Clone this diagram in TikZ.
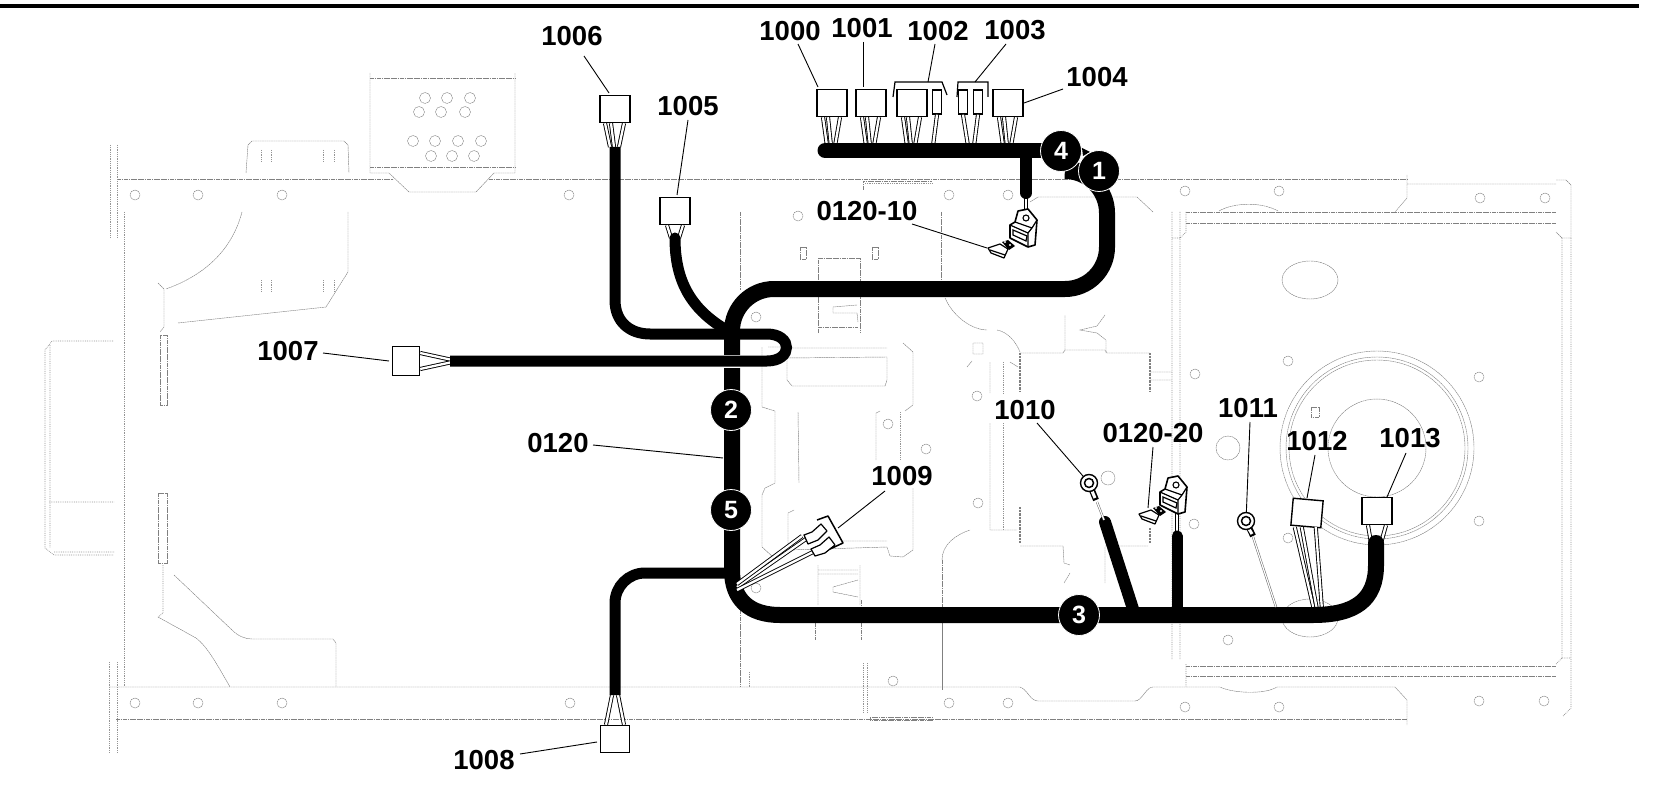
\documentclass[tikz,border=0pt]{standalone}
\usepackage{fontspec}
\setmainfont{Liberation Sans}
\usetikzlibrary{calc}
\tikzset{
  clamp/.pic={
    \draw[line width=1.6pt, fill=white, line join=round] (-15,-3) -- (-10,-6) -- (-7,-17) -- (3,-19) -- (12,-8) -- (10,17) -- (3,19) -- (-15,10) -- cycle;
    \draw[line width=1.2pt] (-15,-3) -- (3,5) -- (3,19) (3,5) -- (7,0) -- (12,-8) (-10,-6) -- (7,0);
    \draw[line width=1.1pt] (1,-10) circle (3);
    \draw[line width=1.2pt] (-12,2) -- (2,8) -- (1,13) -- (-12,7) -- cycle;
  },
  clipfoot/.pic={
    \fill (2,-7) -- (8,-9) -- (15,-3) -- (9,1) -- cycle;
    \draw[line width=1.2pt, fill=white, line join=round] (-12,-1) -- (0,-5) -- (8,0) -- (4,9) -- (-9,4) -- cycle;
    \draw[line width=1.2pt] (-10,1) -- (5,6);
    \fill[white] (5,-7) circle (1.2) (10,-4) circle (1.2);
  }
}
\begin{document}
\begin{tikzpicture}[x=1pt,y=-1pt]
\tikzstyle{bgline}=[draw=black!50, line width=.45pt, dash pattern=on 1.8pt off .5pt]
\tikzstyle{bgdot}=[draw=black!42, line width=.7pt, dash pattern=on .8pt off 1pt]
\tikzstyle{harness}=[line width=16pt, line cap=round]
\tikzstyle{branch}=[line width=11pt, line cap=round]
\tikzstyle{wire}=[draw=black, line width=.9pt, double=white, double distance=2.3pt]
\tikzstyle{thinwire}=[draw=black!60, line width=.5pt, double=white, double distance=1.2pt]
\tikzstyle{housing}=[draw, line width=1.4pt, fill=white, inner sep=0pt, minimum width=30pt, minimum height=27pt]
\tikzstyle{tag}=[inner sep=0pt, font=\fontsize{27.5}{30}\selectfont\bfseries]
\tikzstyle{leader}=[line width=.9pt]
\tikzstyle{bubble}=[circle, fill=black, draw=white, line width=.8pt, text=white, inner sep=0pt, minimum size=41pt, font=\fontsize{25}{28}\selectfont\bfseries]
\tikzstyle{lug}=[circle, draw, line width=1.4pt, fill=white, inner sep=0pt, minimum size=17pt]
\useasboundingbox (0,0) rectangle (1680,786);
\fill (0,4) rectangle (1639,8);

%%% chassis outline
\foreach \hx/\hy in {135/195,198/195,282/195,569/195,798/216,949/195,1008/195,1185/191,1279/191,1480/198,1545/198,
  135/703,198/703,282/703,570/703,893/681,949/703,1008/703,1185/707,1279/707,1479/701,1544/701,1228/640,
  756/317,756/588,888/424,926/449,977/396,978/503,1194/524,1288/361,1195/374,1479/377,1479/521,1288/538}
  \draw[bgline] (\hx,\hy) circle (5);
\draw[bgline] (1108,478) circle (7) (1228,448) circle (12);
\draw[bgline] (117,179) -- (393,179) (489,179) -- (1407,179);
\draw[bgline] (109,687) -- (1020,687) .. controls (1028,690) and (1030,701) .. (1038,701) -- (1135,701) .. controls (1142,701) and (1146,687) .. (1153,687) -- (1220,687) .. controls (1232,693) and (1264,695) .. (1277,687) -- (1395,687) -- (1407,700) -- (1407,725);
\draw[bgline] (116,719) -- (1407,719);
\draw[bgdot] (110,145) -- (110,237) (117,145) -- (117,237) (124,212) -- (124,687);
\draw[bgdot] (109,662) -- (109,753) (117,662) -- (117,753);
% tab and plate
\draw[bgline] (246,173) -- (248,145) -- (252,141) -- (344,141) -- (348,145) -- (349,173);
\draw[bgdot] (261,150) -- (261,162) (271,150) -- (271,162) (323,150) -- (323,162) (334,150) -- (334,162);
\draw[bgline] (370,73) -- (370,173) -- (389,173) -- (409,192) -- (476,192) -- (494,173) -- (515,173) -- (515,73);
\draw[bgline] (370,78) -- (515,78) (370,167) -- (515,167);
\foreach \hx/\hy in {425/98,447/98,470/98,419/112,441/112,465/112,413/141,435/141,458/141,481/141,431/156,452/156,474/156}
  \draw[bgline] (\hx,\hy) circle (5.5);
% left frame
\draw[bgline] (242,212) .. controls (232,250) and (205,275) .. (166,289) (158,283) -- (164,289) -- (164,327) -- (160,332);
\draw[bgline] (348,212) -- (348,272) -- (326,307) -- (178,323);
\draw[bgdot] (261,280) -- (261,292) (271,280) -- (271,292) (323,280) -- (323,292) (334,280) -- (334,292);
\draw[bgline] (160,335) rectangle (167,405) (158,493) rectangle (167,563);
\draw[bgdot] (113,341) -- (52,341) -- (45,350) -- (45,548) -- (54,555) -- (114,555) (50,345) -- (50,548) (49,502) -- (114,502) (54,552) -- (114,552);
\draw[bgdot] (163,565) -- (163,613) -- (158,617);
\draw[bgline] (158,617) -- (196,638) .. controls (205,645) and (212,655) .. (230,687);
\draw[bgline] (174,575) -- (232,630) .. controls (238,636) and (245,639) .. (252,639) -- (333,639) -- (336,643) -- (336,687);
% middle frame
\draw[bgline] (863,190) -- (863,181) -- (932,181);
\draw[bgdot] (865,183) -- (932,183);
\draw[bgline] (1030,202) -- (1038,197) -- (1137,197) -- (1153,212);
\draw[bgline] (740,212) -- (740,290) (941,212) -- (941,290) (740,610) -- (740,687) (942,560) -- (942,687);
\draw[bgline] (942,560) .. controls (942,545) and (955,535) .. (970,530);
\draw[bgline] (945,298) .. controls (955,320) and (975,330) .. (987,330) (997,330) .. controls (1008,332) and (1016,342) .. (1020,352);
\draw[bgline] (800,247) rectangle (806,259) (872,247) rectangle (878,259);
\draw[bgline] (818,333) -- (818,258) -- (860,258) -- (860,333) (818,327) -- (858,327);
\draw[bgline] (857,305) -- (833,307) -- (833,313) -- (857,313) -- (858,322);
\draw[bgline] (788,348) -- (887,348) (787,358) -- (887,357) (787,358) -- (787,380) -- (792,386) -- (885,386) -- (887,380) -- (887,357);
\draw[bgline] (762,347) -- (762,407) -- (775,411) -- (775,483) -- (765,488) -- (762,495) -- (762,547) -- (773,557) (903,343) -- (913,352) -- (913,405) -- (905,411) (913,488) -- (913,550) -- (903,557) -- (890,556) -- (887,547) -- (788,550) -- (788,513) -- (794,510) (843,541) -- (887,541);
\draw[bgline] (798,412) -- (799,483) (876,460) -- (876,413) -- (880,411) (790,347) -- (768,347);
\draw[bgdot] (900,412) -- (900,460);
\draw[bgline] (818,605) -- (818,565) (860,605) -- (860,565) (818,570) -- (858,570) (818,574) -- (858,574) (858,580) -- (833,587) -- (833,592) -- (858,597);
\draw[bgline] (973,343) rectangle (983,354) (967,367) -- (972,361) (1010,362) -- (1018,367);
\draw[bgline] (990,362) -- (990,393) (990,423) -- (990,530) -- (1017,530) (1020,353) -- (1063,353) -- (1065,350) -- (1105,350) -- (1107,353) -- (1150,353);
\draw[bgdot] (1003,362) -- (1003,393) (1003,423) -- (1003,530);
\draw[bgline] (1065,350) -- (1065,315) (1105,315) -- (1097,326) -- (1080,330) -- (1097,333) -- (1106,340) -- (1106,353);
\draw[draw=black!50, line width=2pt, dash pattern=on .7pt off .7pt] (1020,353) -- (1020,392) (1150,353) -- (1150,392) (1020,507) -- (1020,543) (1150,528) -- (1150,543);
\draw[bgline] (1150,372) -- (1172,372) (1150,380) -- (1172,380) (1020,546) -- (1063,546) -- (1064,563) -- (1070,565) (1070,573) -- (1064,583) (1105,547) -- (1105,583) (1105,546) -- (1148,546);
\draw[bgline] (815,623) -- (815,640) (861,600) -- (861,640) (942,605) -- (942,690);
\draw[bgdot] (749,672) -- (749,687) (863,663) -- (863,713) (867,663) -- (867,713);
\draw[bgline] (870,717) rectangle (932,720);
% right frame
\draw[bgline] (1407,175) -- (1407,198) -- (1395,212) (1407,184) -- (1556,184);
\draw[bgline] (1186,212) -- (1556,212) (1186,223) -- (1556,223) (1186,666) -- (1556,666) (1186,676) -- (1556,676);
\draw[bgline] (1219,211) .. controls (1235,202) and (1262,202) .. (1278,211);
\draw[bgdot] (1172,212) -- (1172,659) (1180,212) -- (1180,659) (1186,212) -- (1186,232) -- (1180,238) -- (1172,238) (1186,664) -- (1186,687);
\draw[bgline] (1556,180) -- (1566,180) -- (1571,185) -- (1571,238) -- (1562,238) -- (1556,232);
\draw[bgdot] (1562,238) -- (1562,658) (1571,238) -- (1571,708) -- (1563,716) (1562,658) -- (1570,658) (1556,664) -- (1562,658);
\draw[bgline] (1310,280) ellipse (28 and 19) (1310,618) ellipse (28 and 19);
\draw[bgline] (1377,448) circle (97) circle (91) circle (88) circle (49);
\draw[bgline] (1311,407) rectangle (1319,417);

%%% harness
\coordinate (h1) at (1099,171);
\coordinate (h2) at (731,410);
\coordinate (h3) at (1079,615);
\coordinate (h4) at (1061,151);
\coordinate (h5) at (731,510);
\coordinate (e1) at (825,150.5);
\coordinate (e2) at (1026,193);
\coordinate (e6) at (615,147);
\coordinate (e7) at (450,361);
\coordinate (e5) at (675,238);
\coordinate (e8) at (615,695);
\coordinate (e13) at (1376,543);
\coordinate (e10) at (1105,522);
\coordinate (e20) at (1177,536);

\node[housing] (b1000) at (832,103) {};
\node[housing] (b1001) at (871,103) {};
\node[housing] (b1002) at (912,103) {};
\node[housing, minimum width=9pt, minimum height=24pt] (b1002s) at (937,102) {};
\node[housing, minimum width=9pt, minimum height=24pt] (b1003a) at (963,102) {};
\node[housing, minimum width=9pt, minimum height=24pt] (b1003b) at (978,102) {};
\node[housing] (b1004) at (1008,103) {};
\node[housing] (b1005) at (675,211) {};
\node[housing] (b1006) at (615,109) {};
\node[housing, minimum height=29pt, minimum width=27pt] (b1007) at (406,361) {};
\node[housing, minimum width=29pt] (b1008) at (615,739) {};
\node[housing, rotate=-5] (b1012) at (1307,513) {};
\node[housing] (b1013) at (1377,511) {};

% wires to the plugs
\foreach \n/\tx in {1000/832,1001/871,1002/912,1004/1008}
{
  \draw[wire] ([xshift=-9pt]b\n.south) -- (\tx-5,146);
  \draw[wire] ([xshift=-4pt]b\n.south) -- (\tx-1,146);
  \draw[wire] ([xshift=8pt]b\n.south) -- (\tx+3,146);
}
\draw[wire] (b1002s.south) -- (933,146);
\draw[wire] (b1003a.south) -- (968,146);
\draw[wire] (b1003b.south) -- (974,146);
\draw[wire] ([xshift=-10pt]b1006.south) -- ([xshift=-5pt]e6);
\draw[wire] ([xshift=-4pt]b1006.south) -- ([xshift=-1pt]e6);
\draw[wire] ([xshift=9pt]b1006.south) -- ([xshift=4pt]e6);
\draw[wire] ([xshift=-8pt]b1005.south) -- ([xshift=-4pt]e5);
\draw[wire] ([xshift=8pt]b1005.south) -- ([xshift=4pt]e5);
\draw[wire] ([yshift=8pt]b1007.east) -- ([yshift=1.5pt]e7);
\draw[wire] ([yshift=-8pt]b1007.east) -- ([yshift=-1.5pt]e7);
\draw[wire] ([xshift=-9pt]b1008.north) -- ([xshift=-3pt]e8);
\draw[wire] ([xshift=9pt]b1008.north) -- ([xshift=3pt]e8);
\draw[wire] ([xshift=-9pt]b1013.south) -- ([xshift=-5pt]e13);
\draw[wire] ([xshift=9pt]b1013.south) -- ([xshift=5pt]e13);
\draw[wire] ([xshift=-11pt]b1012.south) -- (1314,610);
\draw[wire] ([xshift=-4pt]b1012.south) -- (1317,610);
\draw[wire] ([xshift=10pt]b1012.south) -- (1322,610);
\draw[wire] (e2) -- (1026,215) (e20) -- (1177,510);

% cable runs
\draw[line width=15pt, line cap=round] (e1) -- (1061,150.5);
\draw[line width=12pt, line cap=round] (e2) -- (1026,150);
\fill (1082,148) -- (1090,152) -- (1083,156) -- cycle;
\draw[harness, rounded corners=42pt] (h1) -- (1107,171) -- (1107,289) -- (732,289) -- (732,340);
\draw[harness] (732,340) -- (732,570) .. controls (732,600) and (750,615) .. (780,615) -- (1313,615) .. controls (1355,615) and (1376,600) .. (1376,565) -- (e13);
\draw[branch] (e5) .. controls (675,280) and (690,310) .. (730,332);
\draw[branch, line cap=butt, rounded corners=30pt] (732,573) -- (615,573) -- (e8);
\draw[line width=13pt, line cap=butt, white] (748,361) -- (716,361);
\draw[branch, line cap=butt] (e6) -- (615,300) .. controls (615,322) and (630,334) .. (650,334) -- (767,334) .. controls (793,334) and (793,361) .. (767,361) -- (e7);
\draw[line width=12pt, line cap=round] (e10) -- (1134,612);
\draw[line width=11pt, line cap=round] (e20) -- (1177,612);

% terminal 1009
\draw[wire] (737,587) -- (806,539);
\draw[wire] (737,590) -- (815,551);
\draw[wire] (737,584) -- (802,536);
\draw[line width=1.2pt, fill=white, line join=round] (804,535) -- (812,532) -- (821,524) -- (827,531) -- (818,540) -- (808,544) -- cycle;
\draw[line width=1.2pt, fill=white, line join=round] (811,549) -- (820,545) -- (829,537) -- (835,545) -- (825,553) -- (815,556) -- cycle;
\draw[line width=1.5pt, line join=round] (817,520) -- (828,516) -- (843,543) -- (830,549);

% ring lugs
\draw[thinwire] (1097,502) -- (1104,520);
\draw[thinwire] (1253,537) -- (1276,607);
\draw[line width=6pt] (1089,483) -- (1096,500);
\draw[white, line width=3pt] (1092,491) -- (1095,498);
\draw[line width=6pt] (1246,521) -- (1253,536);
\draw[white, line width=3pt] (1249,529) -- (1252,534);
\node[lug] (r1010) at (1089,483) {};
\node[lug] (r1011) at (1246,521) {};
\draw[line width=1.5pt] (r1010) circle (4.5) (r1011) circle (4.5);

% clamps
\pic at (1025,228) {clamp};
\pic at (1000,249) {clipfoot};
\pic at (1175,495) {clamp};
\pic at (1151,515) {clipfoot};

%%% numbered bubbles
\node[bubble] (n1) at (h1) {1};
\node[bubble] (n2) at (h2) {2};
\node[bubble] (n3) at (h3) {3};
\node[bubble] (n4) at (h4) {4};
\node[bubble] (n5) at (h5) {5};

%%% labels
\node[tag] (l1000) at (790,31) {1000};
\node[tag] (l1001) at (862,28) {1001};
\node[tag] (l1002) at (938,31) {1002};
\node[tag] (l1003) at (1015,30) {1003};
\node[tag] (l1004) at (1097,77) {1004};
\node[tag] (l1005) at (688,106) {1005};
\node[tag] (l1006) at (572,36) {1006};
\node[tag] (l1007) at (288,351) {1007};
\node[tag] (l1008) at (484,760) {1008};
\node[tag] (l1009) at (902,476) {1009};
\node[tag] (l1010) at (1025,410) {1010};
\node[tag] (l1011) at (1248,408) {1011};
\node[tag] (l1012) at (1317,441) {1012};
\node[tag] (l1013) at (1410,438) {1013};
\node[tag] (l0120) at (558,443) {0120};
\node[tag] (lc10) at (867,211) {0120-10};
\node[tag] (lc20) at (1153,433) {0120-20};

\coordinate (c0120) at (723,458);
\coordinate (c10) at (987,248);
\coordinate (c20) at (1148,508);
\coordinate (c1002) at (928,82);
\coordinate (c1003) at (975,82);
\draw[leader] ([shift={(8,13)}]l1000.center) -- ([shift={(-14,-16)}]b1000.center);
\draw[leader] ([shift={(1,14)}]l1001.center) -- ([shift={(-8,-16)}]b1001.center);
\draw[leader] ([shift={(-3,13)}]l1002.center) -- (c1002);
\draw[leader] ([shift={(-9,14)}]l1003.center) -- (c1003);
\draw[leader] ([shift={(-34,12)}]l1004.center) -- ([shift={(16,0)}]b1004.center);
\draw[leader] ([shift={(0,14)}]l1005.center) -- ([shift={(2,-16)}]b1005.center);
\draw[leader] ([shift={(12,20)}]l1006.center) -- ([shift={(-6,-16)}]b1006.center);
\draw[leader] ([shift={(35,2)}]l1007.center) -- ([shift={(-17,0)}]b1007.center);
\draw[leader] ([shift={(36,-6)}]l1008.center) -- ([shift={(-18,3)}]b1008.center);
\draw[leader] ([shift={(-17,15)}]l1009.center) -- (838,528);
\draw[leader] ([shift={(12,13)}]l1010.center) -- (r1010);
\draw[leader] ([shift={(2,14)}]l1011.center) -- (r1011);
\draw[leader] ([shift={(-2,14)}]l1012.center) -- ([shift={(0,-15)}]b1012.center);
\draw[leader] ([shift={(-4,15)}]l1013.center) -- ([shift={(10,-14)}]b1013.center);
\draw[leader] ([shift={(35,2)}]l0120.center) -- (c0120);
\draw[leader] ([shift={(45,13)}]lc10.center) -- (c10);
\draw[leader] ([shift={(0,14)}]lc20.center) -- (c20);
\draw[line width=1.2pt] (893,97) -- (895,82) -- (942,82) -- (947,95);
\draw[line width=1.2pt] (957,97) -- (958,82) -- (988,82) -- (988,97);
\end{tikzpicture}
\end{document}
